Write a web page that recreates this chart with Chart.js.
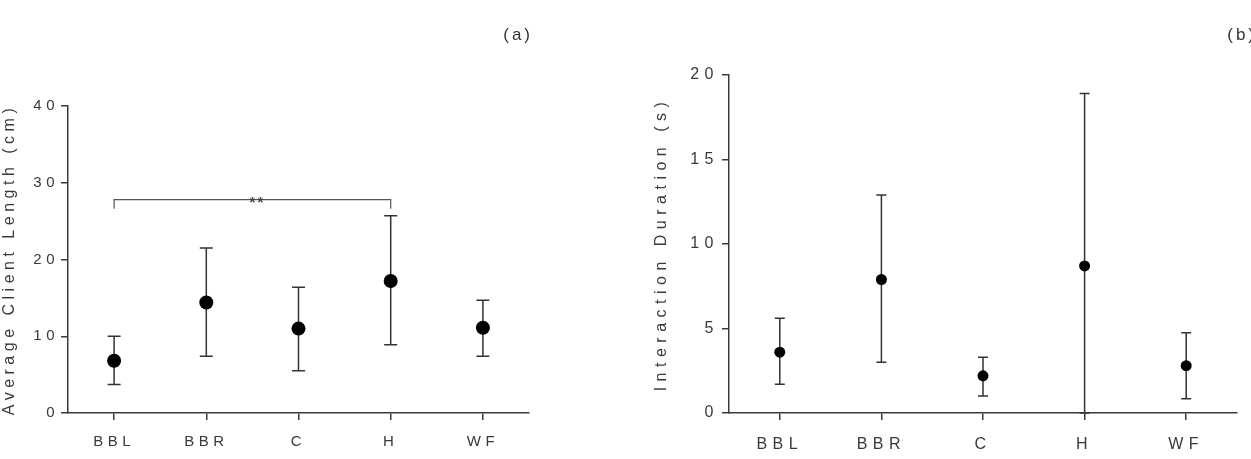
<!DOCTYPE html>
<html><head><meta charset="utf-8">
<script src="https://cdn.jsdelivr.net/npm/chart.js@4/dist/chart.umd.min.js"></script>
<style>
html,body{margin:0;padding:0;background:#fff;overflow:hidden;width:1251px;height:459px;}
#ca{position:absolute;left:0;top:0;}
#cb{position:absolute;left:652px;top:0;}
.panel{position:absolute;font-family:"Liberation Sans",Arial,sans-serif;font-size:17px;color:#333;letter-spacing:3px;line-height:17px;white-space:nowrap;}
</style></head><body>
<canvas id="ca" width="560" height="459"></canvas>
<canvas id="cb" width="599" height="459"></canvas>
<div class="panel" style="right:718px;top:26px;">(a)</div>
<div class="panel" style="right:-6px;top:26px;">(b)</div>
<script>
// ---- data ----
const categories = ['BBL', 'BBR', 'C', 'H', 'WF'];
const lengthMean = [6.8, 14.4, 11.0, 17.2, 11.1];
const lengthLow  = [3.7, 7.4, 5.5, 8.9, 7.4];
const lengthHigh = [10.0, 21.5, 16.4, 25.7, 14.7];
const lengthTicks = [0, 10, 20, 30, 40];
const durationMean = [3.6, 7.9, 2.2, 8.7, 2.8];
const durationLow  = [1.7, 3.0, 1.0, 0.0, 0.85];
const durationHigh = [5.6, 12.9, 3.3, 18.9, 4.75];
const durationTicks = [0, 5, 10, 15, 20];
const sigPair = ['BBL', 'H'];
const sigLevel = 27.8;
const sigDrop = 1.2;
const sigLabel = '**';

const FONT = '"Liberation Sans", Arial, sans-serif';
const AXIS = '#3a3a3a';
const TXT = '#3a3a3a';

function spacing(px) {
  return {
    id: 'letterSpacing',
    beforeLayout(c) { c.ctx.letterSpacing = px + 'px'; },
    beforeDraw(c) { c.ctx.letterSpacing = px + 'px'; }
  };
}

function errorBars(lows, highs, cap) {
  return {
    id: 'errorBars',
    beforeDatasetsDraw(chart) {
      const {ctx, scales: {x, y}} = chart;
      ctx.save();
      ctx.strokeStyle = '#333';
      ctx.lineWidth = 1.5;
      categories.forEach((c, i) => {
        const px = x.getPixelForValue(i);
        const yl = y.getPixelForValue(lows[i]);
        const yh = y.getPixelForValue(highs[i]);
        ctx.beginPath();
        ctx.moveTo(px, yl); ctx.lineTo(px, yh);
        ctx.moveTo(px - cap, yl); ctx.lineTo(px + cap, yl);
        ctx.moveTo(px - cap, yh); ctx.lineTo(px + cap, yh);
        ctx.stroke();
      });
      ctx.restore();
    }
  };
}

const bracket = {
  id: 'bracket',
  afterDatasetsDraw(chart) {
    const {ctx, scales: {x, y}} = chart;
    const x1 = x.getPixelForValue(categories.indexOf(sigPair[0]));
    const x2 = x.getPixelForValue(categories.indexOf(sigPair[1]));
    const yl = y.getPixelForValue(sigLevel);
    const yd = y.getPixelForValue(sigLevel - sigDrop);
    ctx.save();
    ctx.strokeStyle = '#555';
    ctx.lineWidth = 1.2;
    ctx.beginPath();
    ctx.moveTo(x1, yd); ctx.lineTo(x1, yl); ctx.lineTo(x2, yl); ctx.lineTo(x2, yd);
    ctx.stroke();
    ctx.fillStyle = '#444';
    ctx.font = 'bold 15px ' + FONT;
    ctx.letterSpacing = '2px';
    ctx.textAlign = 'center';
    ctx.textBaseline = 'alphabetic';
    ctx.fillText(sigLabel, (x1 + x2) / 2 + 5, yl + 7);
    ctx.restore();
  }
};

function makeChart(id, cfg) {
  return new Chart(document.getElementById(id), {
    type: 'line',
    data: {
      labels: categories,
      datasets: [{
        data: cfg.mean,
        showLine: false,
        pointRadius: cfg.r,
        pointHoverRadius: cfg.r,
        pointBackgroundColor: '#000',
        pointBorderColor: '#000',
        pointBorderWidth: 0
      }]
    },
    options: {
      responsive: false,
      animation: false,
      events: [],
      layout: {padding: {top: cfg.top, right: cfg.right, left: 0, bottom: 0}},
      plugins: {legend: {display: false}, tooltip: {enabled: false}},
      scales: {
        x: {
          type: 'category',
          offset: true,
          afterFit: s => { s.height = 46; },
          border: {display: true, color: AXIS, width: 1.5},
          grid: {drawOnChartArea: false, drawTicks: true, tickLength: 7, color: AXIS, lineWidth: 1.5, offset: false},
          ticks: {color: TXT, font: {family: FONT, size: cfg.fs}, padding: cfg.xpad, maxRotation: 0}
        },
        y: {
          min: 0,
          max: cfg.ticks[cfg.ticks.length - 1],
          afterBuildTicks: s => { s.ticks = cfg.ticks.map(v => ({value: v})); },
          afterFit: s => { s.width = cfg.yw; },
          border: {display: true, color: AXIS, width: 1.5},
          grid: {drawOnChartArea: false, drawTicks: true, tickLength: 7, color: AXIS, lineWidth: 1.5},
          ticks: {color: TXT, font: {family: FONT, size: cfg.fs}, padding: cfg.ypad},
          title: {display: true, text: cfg.title, color: TXT, font: {family: FONT, size: cfg.tfs}, padding: {top: 0, bottom: 0}}
        }
      }
    },
    plugins: cfg.plugins
  });
}

makeChart('ca', {
  mean: lengthMean, r: 7, top: 106, right: 31, yw: 68, fs: 15, tfs: 16, xpad: 13, ypad: 2,
  ticks: lengthTicks, title: 'Average Client Length (cm)',
  plugins: [spacing(4.5), errorBars(lengthLow, lengthHigh, 6.5), bracket]
});

makeChart('cb', {
  mean: durationMean, r: 5.5, top: 75, right: 14, yw: 77, fs: 16, tfs: 16, xpad: 15, ypad: 3,
  ticks: durationTicks, title: 'Interaction Duration (s)',
  plugins: [spacing(5.5), errorBars(durationLow, durationHigh, 5)]
});
</script>
</body></html>
